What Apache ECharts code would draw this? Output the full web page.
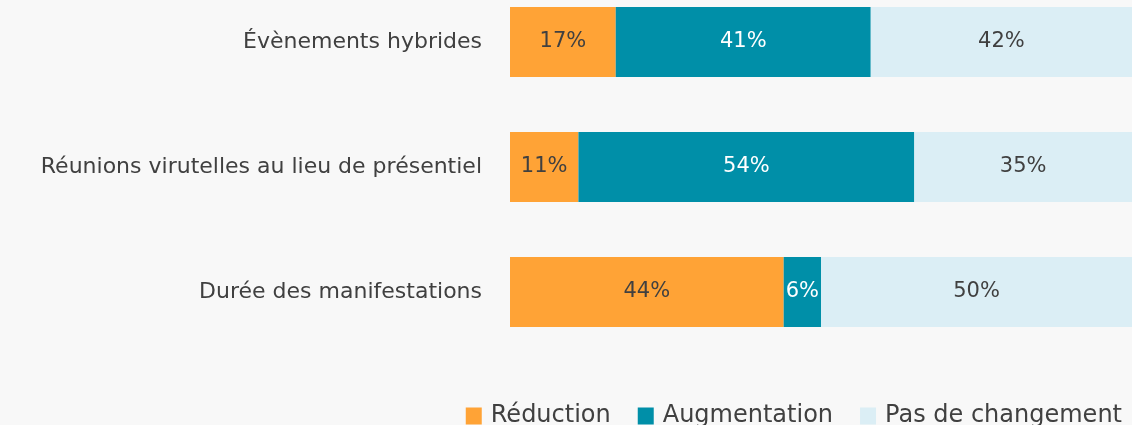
<!DOCTYPE html>
<html>
<head>
<meta charset="utf-8">
<script src="https://cdn.jsdelivr.net/npm/echarts@6/dist/echarts.min.js"></script>
<style>
  html, body { margin: 0; padding: 0; background: #f8f8f8; }
  #chart { width: 1132px; height: 425px; }
</style>
</head>
<body>
<div id="chart"></div>
<script>
const categories = ["Durée des manifestations", "Réunions virutelles au lieu de présentiel", "Évènements hybrides"];
const reduction = [44, 11, 17];
const augmentation = [6, 54, 41];
const pasDeChangement = [50, 35, 42];

const font = "DejaVu Sans";
const chart = echarts.init(document.getElementById("chart"));

function serie(name, data, color, labelColor) {
  return {
    name: name,
    type: "bar",
    stack: "total",
    data: data,
    barWidth: 70,
    itemStyle: { color: color },
    label: {
      show: true,
      position: "inside",
      formatter: "{c}%",
      color: labelColor,
      fontFamily: font,
      fontSize: 21
    }
  };
}

// category ticks sit on the grid edges (boundaryGap false), so top/bottom = bar centres
chart.setOption({
  backgroundColor: "#f8f8f8",
  animation: false,
  grid: { left: 510, right: 0, top: 42, height: 250 },
  legend: {
    right: 5,
    top: 399,
    itemWidth: 16,
    itemHeight: 17,
    itemGap: 27,
    icon: "rect",
    textStyle: { color: "#404040", fontFamily: font, fontSize: 24, padding: [0, 0, 0, 4] },
    data: ["Réduction", "Augmentation", "Pas de changement"]
  },
  xAxis: {
    type: "value",
    min: 0,
    max: 100,
    show: false
  },
  yAxis: {
    type: "category",
    data: categories,
    boundaryGap: false,
    axisLine: { show: false },
    axisTick: { show: false },
    splitLine: { show: false },
    axisLabel: { margin: 28, color: "#404040", fontFamily: font, fontSize: 22 }
  },
  series: [
    serie("Réduction", reduction, "#ffa336", "#404040"),
    serie("Augmentation", augmentation, "#008fa8", "#ffffff"),
    serie("Pas de changement", pasDeChangement, "#dbeef5", "#404040")
  ]
});
</script>
</body>
</html>
